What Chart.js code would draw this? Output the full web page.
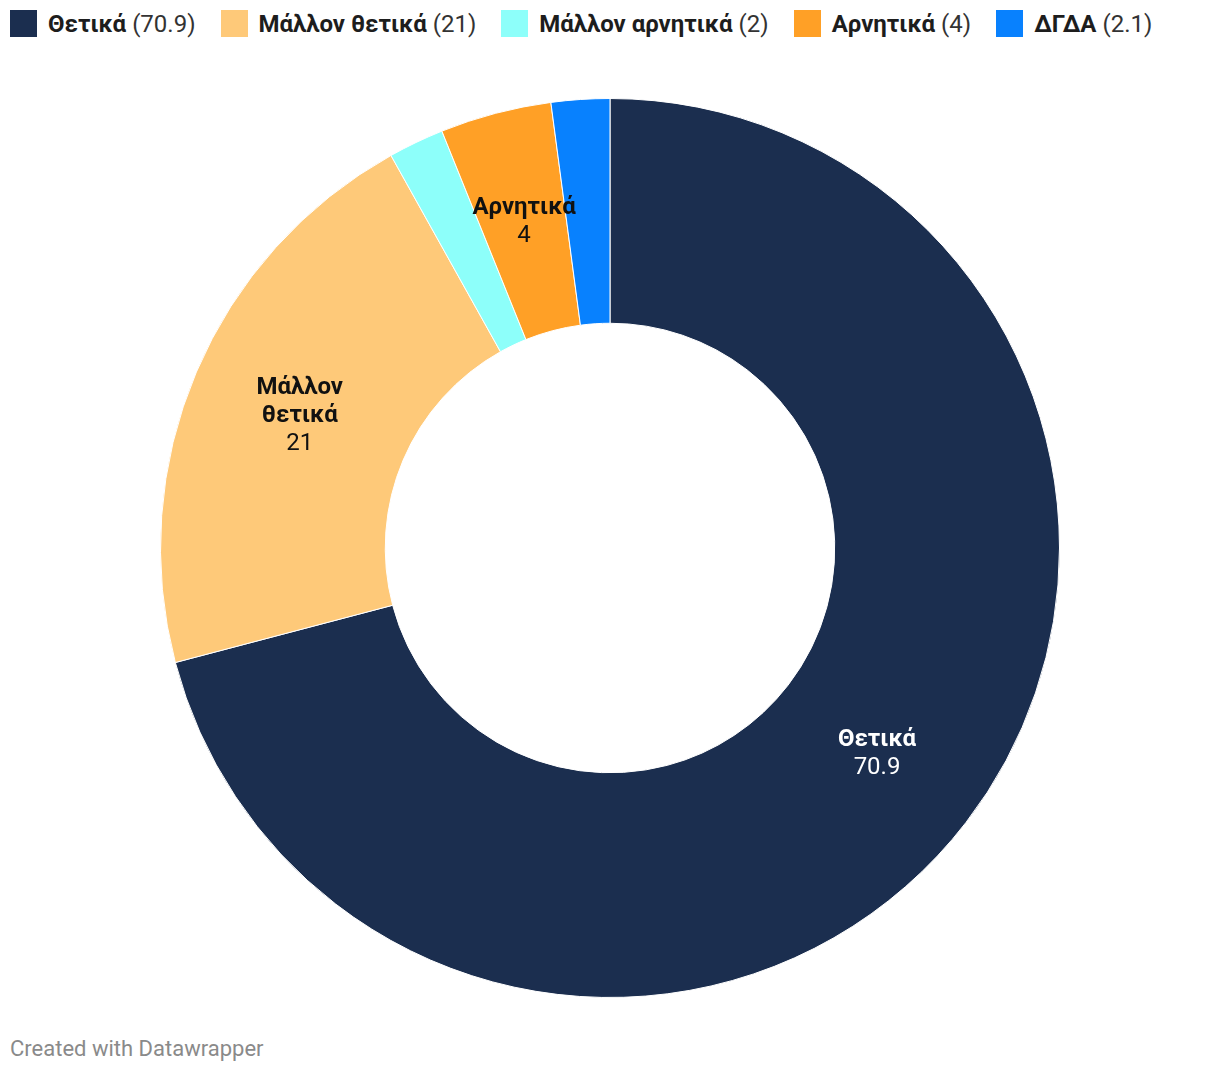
<!DOCTYPE html>
<html lang="el">
<head>
    <meta charset="UTF-8">
    <title>Θετικά / Αρνητικά</title>
    <script src="https://cdn.jsdelivr.net/npm/chart.js"></script>
    <style>
        body { margin: 0; background: #fff; font-family: Roboto, "Noto Sans", sans-serif; }
        #wrap { position: relative; width: 1220px; height: 1074px; }
        #legend { position: absolute; left: 10px; top: 10px; display: flex; align-items: center; height: 27px; }
        .item { display: flex; align-items: center; margin-right: 25px; font-size: 24px; color: #1d1d1d; }
        .sw { width: 27px; height: 27px; margin-right: 11px; }
        .item b { font-weight: 700; margin-right: 6px; }
        .item span.v { font-weight: 400; color: #333; }
        #box { position: absolute; left: 0; top: 98px; width: 1220px; height: 900px; }
        #footer { position: absolute; left: 10px; top: 1036px; font-size: 22px; color: #8a8a8a; }
    </style>
</head>
<body>
<div id="wrap">
    <div id="legend"></div>
    <div id="box"><canvas id="myChart" width="1220" height="900"></canvas></div>
    <div id="footer">Created with Datawrapper</div>
</div>
<script>
    // Data
    const categories = ["Θετικά", "Μάλλον θετικά", "Μάλλον αρνητικά", "Αρνητικά", "ΔΓΔΑ"];
    const values = [70.9, 21, 2, 4, 2.1];
    const colors = ["#1b2e4f", "#fec979", "#8dfffa", "#ffa026", "#0881fe"];
    // labels shown on the slices (null = no label)
    const sliceLabels = [["Θετικά"], ["Μάλλον", "θετικά"], null, ["Αρνητικά"], null];
    const labelColors = ["#ffffff", "#111111", "#111111", "#111111", "#111111"];

    // HTML legend
    const legend = document.getElementById("legend");
    categories.forEach((c, i) => {
        const it = document.createElement("div");
        it.className = "item";
        it.innerHTML = '<div class="sw" style="background:' + colors[i] + '"></div><b>' + c + '</b><span class="v">(' + values[i] + ')</span>';
        legend.appendChild(it);
    });

    // draws the name + value inside the big slices
    const sliceText = {
        id: "sliceText",
        afterDatasetsDraw(chart) {
            const ctx = chart.ctx;
            const meta = chart.getDatasetMeta(0);
            meta.data.forEach((arc, i) => {
                if (!sliceLabels[i]) return;
                const p = arc.tooltipPosition();
                const lines = sliceLabels[i].concat([String(values[i])]);
                const lh = 28;
                let y = p.y - (lines.length - 1) * lh / 2;
                ctx.save();
                ctx.fillStyle = labelColors[i];
                ctx.textAlign = "center";
                ctx.textBaseline = "middle";
                lines.forEach((l, j) => {
                    const isValue = j === lines.length - 1;
                    ctx.font = (isValue ? "400" : "700") + " 24px Roboto";
                    ctx.fillText(l, p.x, y + j * lh);
                });
                ctx.restore();
            });
        }
    };

    const ctx = document.getElementById("myChart").getContext("2d");
    new Chart(ctx, {
        type: "doughnut",
        data: {
            labels: categories,
            datasets: [{
                data: values,
                backgroundColor: colors,
                borderColor: "#ffffff",
                borderWidth: 1,
                hoverOffset: 0
            }]
        },
        options: {
            responsive: false,
            animation: false,
            cutout: "50%",
            layout: { padding: 0 },
            plugins: {
                legend: { display: false },
                tooltip: { enabled: false }
            }
        },
        plugins: [sliceText]
    });
</script>
</body>
</html>
